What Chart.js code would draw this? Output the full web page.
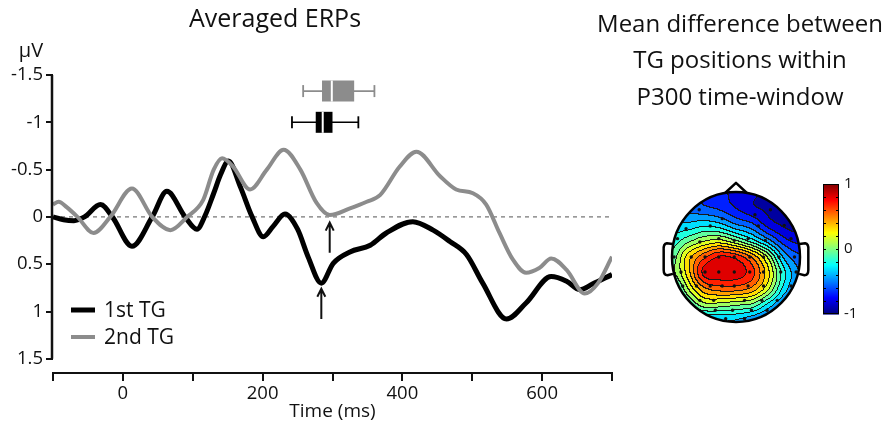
<!DOCTYPE html>
<html>
<head>
<meta charset="utf-8">
<script src="https://cdn.jsdelivr.net/npm/chart.js@4.4.1/dist/chart.umd.min.js"></script>
<style>
  html, body { margin: 0; padding: 0; background: #fff; }
  #wrap { position: relative; width: 892px; height: 435px; }
  #erp { position: absolute; left: 0; top: 0; }
  #topo { position: absolute; left: 580px; top: 0; }
</style>
</head>
<body>
<div id="wrap">
  <canvas id="erp" width="625" height="435"></canvas>
  <canvas id="topo" width="312" height="435"></canvas>
</div>
<script>
// averaged ERP traces (time in ms, amplitude in µV, negative up)
const tg1Times = [-100,-85,-70,-55,-32,-15,13,42,63,89,106,118,130,140,151,168,185,201,215,232,250,265,284,301,325,354,377,415,444,468,492,515,549,577,613,635,654,672,700];
const tg1Amp   = [0,0.03,0.04,0,-0.13,0,0.31,0,-0.27,0,0.13,-0.02,-0.25,-0.45,-0.59,-0.32,0,0.21,0.1,-0.03,0.13,0.42,0.7,0.49,0.37,0.3,0.17,0.05,0.14,0.26,0.4,0.7,1.08,0.91,0.63,0.68,0.77,0.71,0.61];
const tg2Times = [-100,-92,-80,-65,-42,-18,13,42,68,92,115,130,142,158,182,206,230,254,277,296,325,349,368,396,420,454,477,501,520,539,558,577,596,613,635,661,680,700];
const tg2Amp   = [-0.13,-0.16,-0.1,0,0.17,0,-0.3,0,0.14,0,-0.18,-0.5,-0.62,-0.53,-0.29,-0.5,-0.71,-0.5,-0.15,-0.02,-0.09,-0.16,-0.23,-0.53,-0.69,-0.43,-0.29,-0.25,-0.13,0.17,0.45,0.59,0.54,0.44,0.56,0.81,0.70,0.42];

const yTickValues = [-1.5, -1, -0.5, 0, 0.5, 1, 1.5];
const xLabelValues = [0, 200, 400, 600];

// peak latency boxplots: low whisker, q1, median, q3, high whisker (ms)
const box1Stats = [242, 276, 286, 300, 337];
const box2Stats = [258, 285, 299, 331, 360];
const boxRows = [-1.0, -1.33];

// P300 peak markers
const arrowTimes = [284, 296];
const arrowFrom = [1.08, 0.38];
const arrowTo = [0.76, 0.06];

// topography: values on a 9x9 grid over the head (row 0 = front), -1..1
const topoGrid = [
  [-0.55,-0.6,-0.65,-0.7,-0.8,-0.85,-0.9,-0.9,-0.9],
  [-0.5,-0.55,-0.6,-0.65,-0.75,-0.85,-0.9,-0.95,-0.95],
  [-0.35,-0.35,-0.3,-0.35,-0.5,-0.6,-0.8,-0.9,-0.95],
  [-0.2,-0.05,0.1,0.15,0.0,-0.2,-0.45,-0.7,-0.8],
  [-0.1,0.3,0.58,0.76,0.7,0.48,0.1,-0.4,-0.6],
  [-0.05,0.3,0.78,0.84,0.82,0.68,0.3,-0.2,-0.5],
  [-0.3,0.1,0.45,0.55,0.55,0.45,0.15,-0.3,-0.55],
  [-0.45,-0.2,0.05,0.05,0.0,-0.05,-0.3,-0.55,-0.65],
  [-0.6,-0.5,-0.45,-0.4,-0.4,-0.5,-0.6,-0.7,-0.75]
];
const elecX = [-0.575,0.538,0.296,-0.215,-0.403,0.349,0.753,-0.78,-0.914,-0.565,-0.269,-0.027,0.188,0.457,0.86,
  -0.968,-0.699,-0.484,-0.269,-0.027,0.215,0.43,0.672,0.914,
  -0.86,-0.484,-0.269,-0.027,0.215,0.43,0.699,0.94,
  -0.833,-0.618,-0.403,-0.215,-0.027,0.188,0.43,0.86,
  -0.565,-0.349,0.134,0.403,0.645,
  -0.323,-0.054,0.242,0.484,
  -0.161,0.134];
const elecY = [0.728,0.728,0.651,0.59,0.477,0.477,0.487,0.436,0.282,0.231,0.282,0.256,0.282,0.256,0.282,
  0,0,0,0,0,0,0,0,0,
  -0.231,-0.231,-0.231,-0.231,-0.231,-0.231,-0.231,-0.231,
  -0.446,-0.446,-0.446,-0.446,-0.446,-0.446,-0.446,-0.446,
  -0.667,-0.667,-0.667,-0.667,-0.667,
  -0.82,-0.82,-0.82,-0.82,
  -0.949,-0.949];
const cbarLabels = [1, 0, -1];

const FONT = '"Open Sans", sans-serif';
const INK = '#111';
const GRAY = '#8c8c8c';

function pts(xs, ys) {
  return xs.map((x, i) => ({ x: x, y: ys[i] }));
}

function boxSets(stats, row, color, order) {
  return [
    { data: [{ x: stats[2], y: row }], showLine: false, pointStyle: 'line', pointRotation: 90,
      pointRadius: 10.5, pointBorderColor: '#fff', pointBorderWidth: 2, order: order },
    { data: [{ x: stats[1], y: row }, { x: stats[3], y: row }], borderColor: color, borderWidth: 21,
      borderCapStyle: 'butt', pointRadius: 0, order: order + 1 },
    { data: [{ x: stats[0], y: row }, { x: stats[4], y: row }], borderColor: color, borderWidth: 1.6,
      pointStyle: 'line', pointRotation: 90, pointRadius: 6, pointBorderColor: color,
      pointBorderWidth: 1.8, order: order + 2 }
  ];
}

const erpDecor = {
  id: 'erpDecor',
  afterDraw(chart) {
    const ctx = chart.ctx;
    const xs = chart.scales.x, ys = chart.scales.y;
    const left = chart.chartArea.left;
    ctx.save();
    // y spine only over the labelled range
    ctx.strokeStyle = INK;
    ctx.lineWidth = 2.5;
    ctx.beginPath();
    ctx.moveTo(left - 1, ys.getPixelForValue(yTickValues[0]));
    ctx.lineTo(left - 1, ys.getPixelForValue(yTickValues[yTickValues.length - 1]));
    ctx.stroke();

    // arrows
    ctx.lineWidth = 2;
    arrowTimes.forEach((t, i) => {
      const x = xs.getPixelForValue(t);
      const y0 = ys.getPixelForValue(arrowFrom[i]);
      const y1 = ys.getPixelForValue(arrowTo[i]);
      ctx.beginPath();
      ctx.moveTo(x, y0);
      ctx.lineTo(x, y1);
      ctx.moveTo(x - 4, y1 + 8);
      ctx.lineTo(x, y1);
      ctx.lineTo(x + 4, y1 + 8);
      ctx.stroke();
    });

    // titles
    ctx.fillStyle = INK;
    ctx.textAlign = 'center';
    ctx.textBaseline = 'alphabetic';
    ctx.font = '25px ' + FONT;
    ctx.fillText('Averaged ERPs', 275, 27);
    ctx.font = '20px ' + FONT;
    ctx.fillText('\u00b5V', 31, 57);

    // legend
    const legendSets = chart.data.datasets.filter(d => d.isErp)
      .sort((a, b) => a.label.localeCompare(b.label));
    ctx.textAlign = 'left';
    ctx.textBaseline = 'middle';
    ctx.font = '21px ' + FONT;
    legendSets.forEach((d, i) => {
      const y = 310 + i * 27;
      ctx.strokeStyle = d.borderColor;
      ctx.lineWidth = d.borderWidth;
      ctx.beginPath();
      ctx.moveTo(71, y);
      ctx.lineTo(95, y);
      ctx.stroke();
      ctx.fillStyle = INK;
      ctx.fillText(d.label, 104, y + 1);
    });
    ctx.restore();
  }
};

new Chart(document.getElementById('erp'), {
  type: 'line',
  data: {
    datasets: [
      ...boxSets(box1Stats, boxRows[0], '#000', 0),
      ...boxSets(box2Stats, boxRows[1], GRAY, 0),
      { label: '2nd TG', isErp: true, data: pts(tg2Times, tg2Amp), borderColor: GRAY, borderWidth: 4,
        cubicInterpolationMode: 'monotone', pointRadius: 0, order: 4 },
      { label: '1st TG', isErp: true, data: pts(tg1Times, tg1Amp), borderColor: '#000', borderWidth: 5,
        cubicInterpolationMode: 'monotone', pointRadius: 0, order: 5 },
      { data: [{ x: -100, y: 0 }, { x: 700, y: 0 }], borderColor: '#555', borderWidth: 1,
        borderDash: [4, 4], pointRadius: 0, order: 6 }
    ]
  },
  options: {
    responsive: false,
    animation: false,
    events: [],
    layout: { padding: { left: 0, right: 13, top: 75, bottom: 0 } },
    plugins: { legend: { display: false }, tooltip: { enabled: false } },
    scales: {
      x: {
        type: 'linear', min: -100, max: 700,
        ticks: {
          stepSize: 100, autoSkip: false, maxRotation: 0, padding: 2, color: INK,
          font: { family: FONT, size: 18.5 },
          callback: v => xLabelValues.includes(v) ? String(v) : ''
        },
        grid: { drawOnChartArea: false, tickLength: 8, color: INK, lineWidth: 2 },
        border: { color: INK, width: 2 },
        title: { display: true, text: 'Time (ms)', color: INK, font: { family: FONT, size: 19 },
                 padding: { top: 0, bottom: 12 } },
        afterFit: s => { s.height = 62; }
      },
      y: {
        type: 'linear', reverse: true, min: -1.5, max: 1.65,
        afterBuildTicks: s => { s.ticks = yTickValues.map(v => ({ value: v })); },
        ticks: { color: INK, padding: 3, font: { family: FONT, size: 18.5 }, callback: v => String(v) },
        grid: { drawOnChartArea: false, tickLength: 7, color: INK, lineWidth: 2 },
        border: { display: false },
        afterFit: s => { s.width = 53; }
      }
    }
  },
  plugins: [erpDecor]
});

// ---------- topography ----------
function jet(t) {
  const c = x => Math.max(0, Math.min(1, x));
  return [c(1.5 - Math.abs(4 * t - 3)), c(1.5 - Math.abs(4 * t - 2)), c(1.5 - Math.abs(4 * t - 1))]
    .map(x => Math.round(x * 255));
}

function catmull(p0, p1, p2, p3, t) {
  return p1 + 0.5 * t * (p2 - p0 + t * (2 * p0 - 5 * p1 + 4 * p2 - p3 + t * (3 * (p1 - p2) + p3 - p0)));
}

function sampleTopo(u, v) {
  const n = topoGrid.length;
  const gx = (u + 1) / 2 * (n - 1), gy = (1 - v) / 2 * (n - 1);
  const i1 = Math.max(0, Math.min(n - 2, Math.floor(gx)));
  const j1 = Math.max(0, Math.min(n - 2, Math.floor(gy)));
  const fx = gx - i1, fy = gy - j1;
  const g = (i, j) => topoGrid[Math.max(0, Math.min(n - 1, j))][Math.max(0, Math.min(n - 1, i))];
  const rows = [];
  for (let k = -1; k <= 2; k++) {
    rows.push(catmull(g(i1 - 1, j1 + k), g(i1, j1 + k), g(i1 + 1, j1 + k), g(i1 + 2, j1 + k), fx));
  }
  return catmull(rows[0], rows[1], rows[2], rows[3], fy);
}

const LEVELS = 16;

const topoDecor = {
  id: 'topoDecor',
  beforeDatasetsDraw(chart) {
    const ctx = chart.ctx;
    const xs = chart.scales.x, ys = chart.scales.y;
    const a = chart.chartArea;
    const pad = 2;
    const x0 = Math.floor(a.left) - pad, y0 = Math.floor(a.top) - pad;
    const w = Math.ceil(a.right - a.left) + 2 * pad, h = Math.ceil(a.bottom - a.top) + 2 * pad;
    const off = document.createElement('canvas');
    off.width = w; off.height = h;
    const octx = off.getContext('2d');
    const img = octx.createImageData(w, h);
    const band = new Int16Array(w * h).fill(-1);
    for (let j = 0; j < h; j++) {
      for (let i = 0; i < w; i++) {
        const u = xs.getValueForPixel(x0 + i + 0.5);
        const v = ys.getValueForPixel(y0 + j + 0.5);
        if (u * u + v * v > 1) continue;
        const val = sampleTopo(u, v);
        band[j * w + i] = Math.max(0, Math.min(LEVELS - 1, Math.floor((val + 1) / 2 * LEVELS)));
      }
    }
    for (let j = 0; j < h; j++) {
      for (let i = 0; i < w; i++) {
        const b = band[j * w + i];
        if (b < 0) continue;
        const r = i + 1 < w ? band[j * w + i + 1] : -1;
        const d = j + 1 < h ? band[(j + 1) * w + i] : -1;
        let col;
        if ((r >= 0 && r !== b) || (d >= 0 && d !== b)) col = [25, 25, 25];
        else col = jet((b + 0.5) / LEVELS);
        const k = (j * w + i) * 4;
        img.data[k] = col[0]; img.data[k + 1] = col[1]; img.data[k + 2] = col[2]; img.data[k + 3] = 255;
      }
    }
    octx.putImageData(img, 0, 0);
    ctx.drawImage(off, x0, y0);

    // head outline, nose and ears
    const px = u => xs.getPixelForValue(u), py = v => ys.getPixelForValue(v);
    ctx.save();
    ctx.strokeStyle = '#000';
    ctx.lineWidth = 2.5;
    ctx.lineJoin = 'round';
    ctx.beginPath();
    ctx.ellipse(px(0), py(0), px(1) - px(0), py(0) - py(1), 0, 0, Math.PI * 2);
    ctx.stroke();
    ctx.beginPath();
    ctx.moveTo(px(-0.17), py(0.985));
    ctx.lineTo(px(0), py(1.14));
    ctx.lineTo(px(0.17), py(0.985));
    ctx.stroke();
    [-1, 1].forEach(s => {
      ctx.beginPath();
      ctx.moveTo(px(s * 0.99), py(0.2));
      ctx.lineTo(px(s * 1.08), py(0.21));
      ctx.quadraticCurveTo(px(s * 1.14), py(0.2), px(s * 1.13), py(0.1));
      ctx.lineTo(px(s * 1.13), py(-0.2));
      ctx.quadraticCurveTo(px(s * 1.13), py(-0.28), px(s * 1.07), py(-0.28));
      ctx.lineTo(px(s * 0.985), py(-0.26));
      ctx.stroke();
    });
    ctx.restore();
  },
  afterDraw(chart) {
    const ctx = chart.ctx;
    ctx.save();
    // title
    ctx.fillStyle = INK;
    ctx.textAlign = 'center';
    ctx.textBaseline = 'middle';
    ctx.font = '24px ' + FONT;
    ['Mean difference between', 'TG positions within', 'P300 time-window']
      .forEach((s, i) => ctx.fillText(s, 160, 25 + i * 36.5));

    // colour bar
    const bl = 243, br = 259, bt = 184, bb = 314;
    const steps = 130;
    for (let k = 0; k < steps; k++) {
      const c = jet(1 - (k + 0.5) / steps);
      ctx.fillStyle = 'rgb(' + c.join(',') + ')';
      ctx.fillRect(bl, bt + (bb - bt) * k / steps, br - bl, (bb - bt) / steps + 0.6);
    }
    ctx.strokeStyle = '#000';
    ctx.lineWidth = 1;
    ctx.strokeRect(bl + 0.5, bt + 0.5, br - bl - 1, bb - bt - 1);
    ctx.beginPath();
    for (let k = 1; k < 10; k++) {
      const y = Math.round(bt + (bb - bt) * k / 10) + 0.5;
      ctx.moveTo(bl, y); ctx.lineTo(bl + 3, y);
      ctx.moveTo(br - 3, y); ctx.lineTo(br, y);
    }
    ctx.stroke();
    ctx.fillStyle = INK;
    ctx.textAlign = 'left';
    ctx.font = '15px ' + FONT;
    cbarLabels.forEach(v => {
      const y = bt + (1 - (v + 1) / 2) * (bb - bt);
      ctx.fillText(String(v), br + 5, y);
    });
    ctx.restore();
  }
};

new Chart(document.getElementById('topo'), {
  type: 'scatter',
  data: {
    datasets: [{
      data: pts(elecX, elecY),
      pointRadius: 1.7,
      pointBackgroundColor: '#111',
      pointBorderWidth: 0
    }]
  },
  options: {
    responsive: false,
    animation: false,
    events: [],
    layout: { padding: { left: 92, right: 92, top: 192, bottom: 113 } },
    plugins: { legend: { display: false }, tooltip: { enabled: false } },
    scales: {
      x: { type: 'linear', min: -1, max: 1, display: false },
      y: { type: 'linear', min: -1, max: 1, display: false }
    }
  },
  plugins: [topoDecor]
});
</script>
</body>
</html>
